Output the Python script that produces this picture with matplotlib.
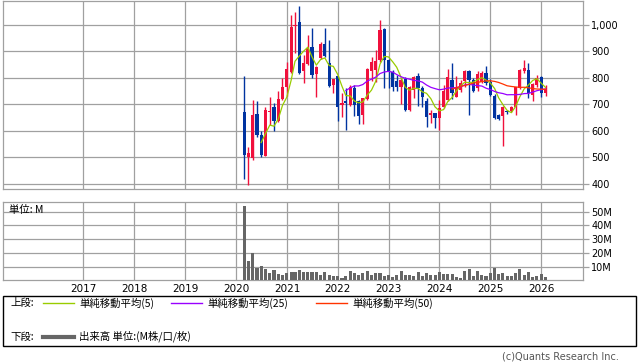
import matplotlib
matplotlib.use('Agg')
import matplotlib.pyplot as plt
import matplotlib.dates as mdates
from matplotlib.patches import Rectangle
from matplotlib.lines import Line2D
import pandas as pd
import numpy as np

# -- monthly candles, Feb 2020 .. Jan 2026 --
months = pd.date_range('2020-02-29', periods=72, freq='ME')

opens = [670, 500, 496, 664, 584, 506, 670, 689, 638, 719, 764,
         824, 995, 1010, 827, 853, 918, 815, 874, 928, 855, 773, 807,
         696, 714, 698, 761, 712, 660, 719, 826, 830, 868, 984, 868,
         824, 790, 764, 795, 679, 754, 807, 761, 714, 660, 666, 647,
         689, 716, 792, 729, 754, 788, 826, 792, 761, 786, 820, 786,
         732, 660, 656, 676, 675, 691, 761, 827, 830, 735, 773, 802,
         744]
highs = [807, 540, 717, 714, 600, 691, 729, 704, 752, 798, 860,
         1038, 1050, 1072, 887, 962, 987, 845, 937, 987, 943, 797, 808,
         742, 761, 773, 773, 715, 725, 836, 880, 906, 1019, 990, 870,
         830, 810, 800, 802, 770, 806, 820, 770, 723, 679, 668, 717,
         773, 832, 858, 807, 792, 828, 828, 798, 827, 827, 845, 795,
         738, 662, 692, 680, 694, 766, 834, 868, 858, 780, 811, 807,
         773]
lows = [418, 394, 490, 575, 500, 506, 622, 600, 635, 716, 730,
        820, 893, 815, 780, 850, 798, 729, 870, 880, 764, 742, 638,
        653, 603, 694, 657, 626, 626, 716, 790, 786, 861, 761, 761,
        752, 752, 701, 676, 676, 723, 694, 691, 616, 628, 609, 603,
        685, 714, 719, 726, 748, 767, 660, 748, 752, 780, 773, 733,
        645, 640, 544, 665, 672, 660, 758, 817, 723, 714, 767, 726,
        732]
closes = [509, 515, 660, 584, 509, 679, 676, 638, 720, 767, 834,
          994, 1000, 820, 855, 912, 811, 843, 928, 883, 769, 795, 691,
          704, 706, 764, 698, 656, 723, 832, 860, 864, 981, 868, 824,
          764, 764, 792, 679, 767, 802, 761, 727, 651, 666, 647, 685,
          752, 802, 742, 767, 782, 826, 792, 752, 815, 820, 780, 736,
          647, 643, 689, 672, 691, 764, 830, 836, 744, 777, 798, 744,
          757]
# volume in millions
volumes = [53.8, 14.1, 19.7, 9.2, 10.5, 8.3, 5.6, 7.5, 4.6, 3.9, 5.6,
           6.3, 6.3, 7.5, 6.3, 6.3, 6.3, 6.3, 3.9, 6.3, 3.9, 3.2, 3.2,
           1.9, 3.2, 7.1, 5.1, 3.9, 5.6, 7.1, 3.9, 5.6, 5.1, 3.2, 3.9,
           2.2, 3.9, 7.1, 3.9, 3.9, 3.2, 6.3, 3.2, 5.6, 3.9, 3.9, 6.3,
           4.6, 4.6, 4.6, 2.2, 1.5, 6.8, 8.3, 3.2, 7.1, 3.9, 3.2, 5.6,
           9.2, 4.6, 5.6, 3.2, 3.2, 5.6, 8.3, 3.9, 6.3, 2.7, 3.2, 4.6,
           2.4]

years = list(range(2017, 2027))
price_ticks = [400, 500, 600, 700, 800, 900, 1000]
vol_ticks = [10, 20, 30, 40, 50]

RED = '#f0103c'
BLUE = '#0033a0'
GRID = '#a0a0a0'
JP = ['Noto Sans CJK JP', 'DejaVu Sans']

df = pd.DataFrame({'o': opens, 'h': highs, 'l': lows, 'c': closes, 'v': volumes},
                  index=months)
ma5 = df['c'].rolling(5).mean()
ma25 = df['c'].rolling(25).mean()
ma50 = df['c'].rolling(50).mean()

W, H = 638, 362
def fx(x): return x / W
def fy(y): return 1 - y / H

fig = plt.figure(figsize=(W / 100, H / 100), dpi=100)
ax1 = fig.add_axes([fx(3), fy(189), (583 - 3) / W, (189 - 1) / H])
ax2 = fig.add_axes([fx(3), fy(280.3), (583 - 3) / W, (280.3 - 201.7) / H])

x = mdates.date2num(months)
xlim = (mdates.date2num(pd.Timestamp('2015-06-04')), mdates.date2num(pd.Timestamp('2026-10-27')))
year_pos = mdates.date2num([pd.Timestamp(f'{y}-01-01') for y in years])

# -- candles --
up = df['c'].values >= df['o'].values
cols = np.where(up, RED, BLUE)
ax1.vlines(x, df['l'], df['h'], colors=cols, lw=1, zorder=3)
body_lo = np.minimum(df['o'], df['c'])
body_h = np.maximum(np.abs(df['c'] - df['o']), 4)
ax1.bar(x, body_h, bottom=body_lo, width=23, color=cols, lw=0, zorder=4)

ax1.plot(x, ma5, color='#99cc00', lw=0.9, zorder=5)
ax1.plot(x, ma25, color='#9900ff', lw=0.9, zorder=5)
ax1.plot(x, ma50, color='#ff3300', lw=0.9, zorder=5)

ax1.set_ylim(379.9, 1090.7)
ax1.set_yticks(price_ticks)
ax1.set_yticklabels([f'{p:,}' for p in price_ticks])

# -- volume --
ax2.bar(x, df['v'], width=22, color='#666666', lw=0, zorder=3)
ax2.set_ylim(0, 57.2)
ax2.set_yticks(vol_ticks)
ax2.set_yticklabels([f'{v}M' for v in vol_ticks])
ax2.set_xticks(year_pos)
ax2.set_xticklabels([str(y) for y in years])
ax2.text(0.01, 0.89, '単位: M', transform=ax2.transAxes, fontsize=7.5,
         family=JP, va='center', ha='left')

for ax in (ax1, ax2):
    ax.set_xlim(*xlim)
    ax.set_xticks(year_pos)
    ax.yaxis.tick_right()
    ax.grid(True, color=GRID, lw=0.9)
    ax.set_axisbelow(True)
    for s in ax.spines.values():
        s.set_color(GRID)
        s.set_linewidth(0.9)
    ax.tick_params(axis='y', length=4, color=GRID, width=0.9, labelsize=7, pad=2)
    ax.tick_params(axis='x', length=0, labelsize=7.5, pad=3)
ax1.tick_params(axis='x', labelbottom=False)

# -- legend box --
fig.patches.append(Rectangle((fx(3), fy(346)), (636 - 3) / W, (346 - 296) / H,
                             transform=fig.transFigure, fill=False, ec='black', lw=1))
row1, row2 = 303.3, 336.7
fig.text(fx(10), fy(row1), '上段:', family=JP, fontsize=7.5, va='center')
fig.text(fx(10), fy(row2), '下段:', family=JP, fontsize=7.5, va='center')
for x0, col, lab in [(43, '#99cc00', '単純移動平均(5)'),
                     (171, '#9900ff', '単純移動平均(25)'),
                     (316, '#ff3300', '単純移動平均(50)')]:
    fig.add_artist(Line2D([fx(x0), fx(x0 + 31)], [fy(row1), fy(row1)], color=col, lw=1,
                          transform=fig.transFigure))
    fig.text(fx(x0 + 36), fy(row1), lab, family=JP, fontsize=7.5, va='center')
fig.add_artist(Line2D([fx(43), fx(74)], [fy(row2), fy(row2)], color='#666666', lw=3,
                      transform=fig.transFigure))
fig.text(fx(79), fy(row2), '出来高 単位:(M株/口/枚)', family=JP, fontsize=7.5, va='center')

fig.text(fx(619), fy(356.5), '(c)Quants Research Inc.', fontsize=7, color='#555555',
         ha='right', va='center')

fig.savefig('out.png', dpi=100)
